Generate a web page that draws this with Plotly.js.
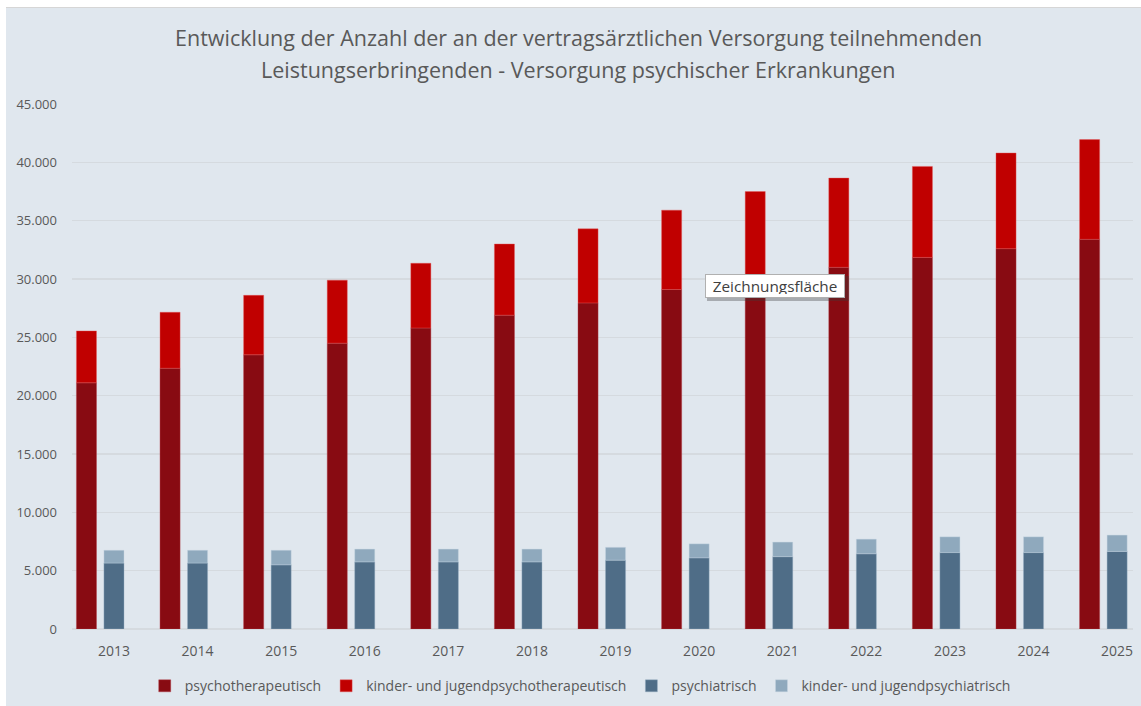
<!DOCTYPE html>
<html>
<head>
<meta charset="utf-8">
<script src="https://cdn.plot.ly/plotly-3.0.1.min.js"></script>
<style>
  html, body { margin: 0; padding: 0; background: #ffffff; width: 1141px; height: 706px; overflow: hidden; }
  #topline { position: absolute; left: 6px; top: 7px; width: 1135px; height: 1px; background: #d6d6d6; }
  #chart { position: absolute; left: 6px; top: 8px; width: 1135px; height: 698px; }
</style>
</head>
<body>
<div id="topline"></div>
<div id="chart"></div>
<script>
// Data
var years = ["2013","2014","2015","2016","2017","2018","2019","2020","2021","2022","2023","2024","2025"];
var psychotherapeutisch = [21100,22350,23500,24500,25800,26900,27950,29100,30100,31000,31850,32600,33400];
var kjPsychotherapeutisch = [4450,4800,5100,5400,5550,6100,6350,6800,7400,7650,7800,8200,8550];
var psychiatrisch = [5650,5650,5500,5750,5750,5750,5900,6100,6200,6450,6550,6550,6650];
var kjPsychiatrisch = [1100,1100,1250,1100,1100,1100,1100,1200,1250,1250,1350,1350,1400];
var seriesNames = ["psychotherapeutisch","kinder- und jugendpsychotherapeutisch","psychiatrisch","kinder- und jugendpsychiatrisch"];
var yTicks = [0,5000,10000,15000,20000,25000,30000,35000,40000,45000];
var titleLine1 = 'Entwicklung der Anzahl der an der vertragsärztlichen Versorgung teilnehmenden';
var titleLine2 = 'Leistungserbringenden - Versorgung psychischer Erkrankungen';

var barW = 0.24;
var traces = [
  {type:'bar', name:seriesNames[0], x:years, y:psychotherapeutisch, width:barW, offset:-0.449,
   marker:{color:'#880B12', line:{color:'rgba(180,60,70,0.5)', width:0.8}}},
  {type:'bar', name:seriesNames[1], x:years, y:kjPsychotherapeutisch, base:psychotherapeutisch, width:barW, offset:-0.449,
   marker:{color:'#C00000', line:{color:'rgba(230,90,90,0.5)', width:0.8}}},
  {type:'bar', name:seriesNames[2], x:years, y:psychiatrisch, width:barW, offset:-0.12,
   marker:{color:'#4F6D87', line:{color:'rgba(150,175,195,0.5)', width:0.8}}},
  {type:'bar', name:seriesNames[3], x:years, y:kjPsychiatrisch, base:psychiatrisch, width:barW, offset:-0.12,
   marker:{color:'#8FA9BD', line:{color:'rgba(200,215,228,0.5)', width:0.8}}}
];

var fontFam = 'Open Sans, Noto Sans, sans-serif';
// tooltip box position in paper coordinates (plot area 72..1133 x, 104..629 y in page pixels)
var tipX = (775 - 72) / 1061, tipY = (629 - 286) / 525;
var layout = {
  width:1135, height:698,
  paper_bgcolor:'#E0E7EE', plot_bgcolor:'#E0E7EE',
  separators:',.',
  barmode:'overlay',
  margin:{l:66, r:8, t:96, b:77, autoexpand:false},
  font:{family:fontFam, color:'#595959', size:13},
  xaxis:{
    type:'category', range:[-0.502, 12.19],
    showgrid:false, zeroline:false, showline:false, ticks:'',
    ticklabelstandoff:12,
    tickfont:{family:fontFam, size:14, color:'#595959'}
  },
  yaxis:{
    range:[0,45000], tickvals:yTicks, tickformat:',d',
    showgrid:true, gridcolor:'#D5DADF', gridwidth:1.2,
    zeroline:true, zerolinecolor:'#D5DADF', zerolinewidth:1.2,
    showline:false, ticks:'', ticklabelstandoff:14,
    tickfont:{family:fontFam, size:13, color:'#595959'}
  },
  legend:{
    orientation:'h', x:0.479, xanchor:'center', y:-0.109, yanchor:'middle',
    font:{family:fontFam, size:14, color:'#595959'},
    bgcolor:'rgba(0,0,0,0)', traceorder:'normal', itemwidth:30
  },
  shapes:[
    {type:'rect', xref:'paper', yref:'paper', layer:'above',
     x0:tipX, x1:tipX, y0:tipY, y1:tipY, xsizemode:'pixel', ysizemode:'pixel',
     xanchor:tipX, yanchor:tipY,
     line:{width:0}, fillcolor:'rgba(60,60,60,0.35)'}
  ],
  annotations:[
    {text:titleLine1, xref:'paper', yref:'paper', x:0.4771, y:1.0, yshift:((629-37)-525),
     xanchor:'center', yanchor:'middle', showarrow:false,
     font:{family:fontFam, size:21.5, color:'#595959'}},
    {text:titleLine2, xref:'paper', yref:'paper', x:0.4771, y:1.0, yshift:((629-69)-525),
     xanchor:'center', yanchor:'middle', showarrow:false,
     font:{family:fontFam, size:21.5, color:'#595959'}},
    {text:'Zeichnungsfläche', xref:'paper', yref:'paper', x:tipX, y:tipY,
     xanchor:'center', yanchor:'middle', showarrow:false, width:132, height:16,
     font:{family:fontFam, size:15.3, color:'#404040'},
     bgcolor:'#FFFFFF', bordercolor:'#B0B0B0', borderwidth:1, borderpad:3}
  ],
  showlegend:true
};
// shadow rectangle: pixel-sized, offset down-right behind the tooltip box
layout.shapes[0].x0 = -68; layout.shapes[0].x1 = 74;
layout.shapes[0].y0 = -15; layout.shapes[0].y1 = 10;

Plotly.newPlot('chart', traces, layout, {displayModeBar:false, staticPlot:true});
</script>
</body>
</html>
